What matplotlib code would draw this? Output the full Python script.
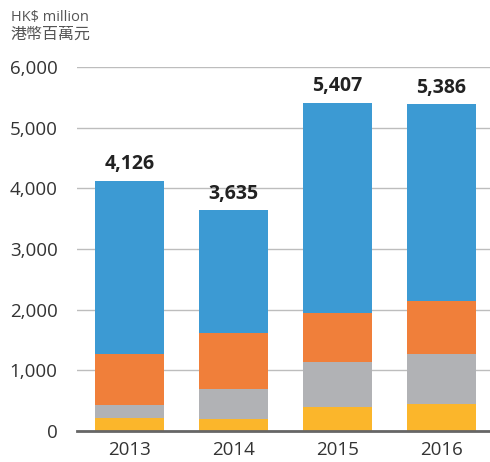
import numpy as np
import matplotlib.pyplot as plt

years = ['2013', '2014', '2015', '2016']
totals = [4126, 3635, 5407, 5386]
# stacked segments, bottom to top (HK$ million)
seg_yellow = [219, 198, 396, 450]
seg_gray = [210, 494, 741, 819]
seg_orange = [845, 923, 808, 874]
seg_blue = [t - y - g - o for t, y, g, o in zip(totals, seg_yellow, seg_gray, seg_orange)]

colors = ['#FBB62B', '#B1B2B5', '#F07F3A', '#3C9AD3']

plt.rcParams['font.family'] = ['Open Sans', 'Noto Sans CJK TC', 'DejaVu Sans']

fig = plt.figure(figsize=(4.9, 4.62), dpi=100)
ax = fig.add_axes([0.157, 0.067, 0.843, 0.788])

x = np.arange(len(years))
bottom = np.zeros(len(years))
for seg, c in zip([seg_yellow, seg_gray, seg_orange, seg_blue], colors):
    ax.bar(x, seg, bottom=bottom, width=0.663, color=c, zorder=3)
    bottom += np.array(seg)

for xi, t in zip(x, totals):
    ax.text(xi, t + 110, '{:,}'.format(t), ha='center', va='bottom',
            fontsize=14, fontweight='bold', color='#222222')

ax.set_xlim(-0.505, 3.466)
ax.set_ylim(0, 6000)
ax.set_yticks(range(0, 6001, 1000))
ax.set_yticklabels(['{:,}'.format(v) for v in range(0, 6001, 1000)])
ax.set_xticks(x)
ax.set_xticklabels(years)
ax.grid(axis='y', color='#BDBDBD', linewidth=1, zorder=0)
for s in ['top', 'right', 'left']:
    ax.spines[s].set_visible(False)
ax.spines['bottom'].set_color('#666666')
ax.spines['bottom'].set_linewidth(2)
ax.spines['bottom'].set_zorder(4)
ax.tick_params(axis='both', length=0, labelsize=13.5, colors='#333333')
ax.tick_params(axis='y', pad=14)
ax.tick_params(axis='x', pad=7)

fig.text(0.022, 0.962, 'HK$ million', fontsize=10.5, color='#555555', va='center')
fig.text(0.022, 0.926, '港幣百萬元', fontsize=11.5, color='#555555', va='center',
         family=['Noto Sans CJK TC', 'DejaVu Sans'])

fig.savefig('out.png', dpi=100)
